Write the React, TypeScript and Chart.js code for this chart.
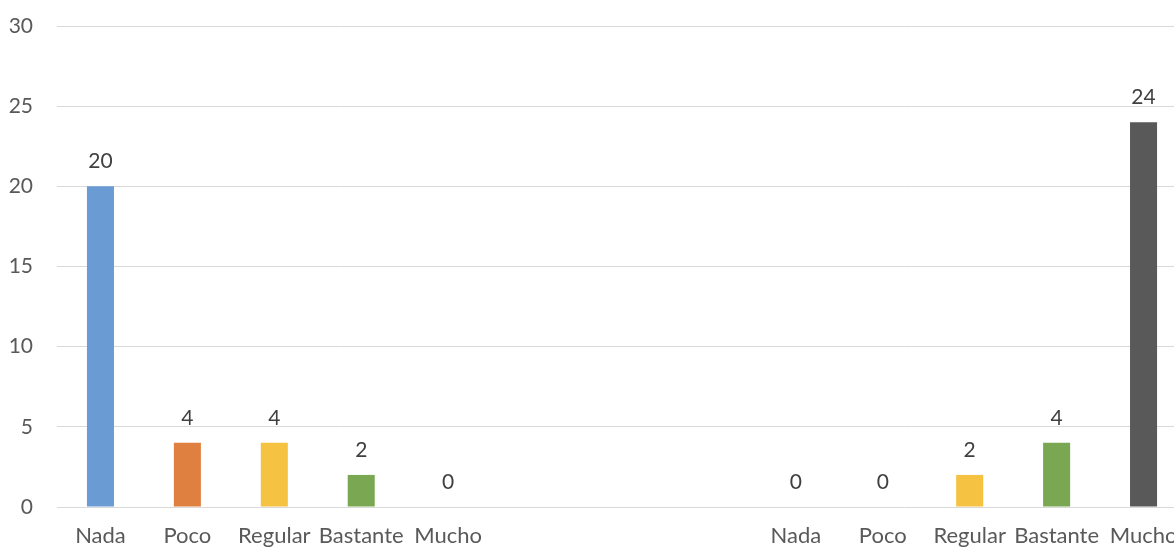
import React, { useEffect, useRef } from "react";
import { Chart, registerables } from "chart.js";

Chart.register(...registerables);

const categories = ["Nada", "Poco", "Regular", "Bastante", "Mucho"];
const groupA = [20, 4, 4, 2, 0];
const groupB = [0, 0, 2, 4, 24];
const gapSlots = 3;
const barColors = ["#6A9BD3", "#E08040", "#F5C242", "#7AA852", "#595959"];
const yTicks = { min: 0, max: 30, step: 5 };

const labels = [...categories, ...Array(gapSlots).fill(""), ...categories];
const values: (number | null)[] = [...groupA, ...Array(gapSlots).fill(null), ...groupB];
const colors = [...barColors, ...Array(gapSlots).fill("#ffffff"), ...barColors];

const FONT = "Lato, 'Open Sans', sans-serif";

const valueLabels = {
  id: "valueLabels",
  afterDatasetsDraw(chart: any) {
    const ctx = chart.ctx;
    const meta = chart.getDatasetMeta(0);
    ctx.save();
    ctx.fillStyle = "#404040";
    ctx.font = `21px ${FONT}`;
    ctx.textAlign = "center";
    ctx.textBaseline = "middle";
    meta.data.forEach((bar: any, i: number) => {
      const v = chart.data.datasets[0].data[i];
      if (v === null || v === undefined) return;
      ctx.fillText(String(v), bar.x, bar.y - 25);
    });
    ctx.restore();
  },
};

export default function App() {
  const ref = useRef<HTMLCanvasElement | null>(null);
  useEffect(() => {
    if (!ref.current) return;
    const chart = new Chart(ref.current, {
      type: "bar",
      data: {
        labels,
        datasets: [
          {
            data: values,
            backgroundColor: colors,
            categoryPercentage: 1,
            barPercentage: 0.311,
          },
        ],
      },
      options: {
        animation: false,
        responsive: false,
        maintainAspectRatio: false,
        layout: { padding: { top: 26, left: 0, right: 3, bottom: 0 } },
        plugins: { legend: { display: false }, tooltip: { enabled: false } },
        scales: {
          x: {
            grid: { display: false },
            border: { display: false },
            ticks: {
              color: "#595959",
              font: { family: FONT, size: 22 },
              padding: 8,
              maxRotation: 0,
              autoSkip: false,
            },
            afterFit: (s: any) => {
              s.height = 50;
            },
          },
          y: {
            min: yTicks.min,
            max: yTicks.max,
            ticks: {
              stepSize: yTicks.step,
              color: "#595959",
              font: { family: FONT, size: 21 },
              padding: 0,
            },
            grid: {
              color: "#D9D9D9",
              lineWidth: 1,
              drawTicks: true,
              tickLength: 24,
              tickColor: "rgba(0,0,0,0)",
            },
            border: { display: false },
            afterFit: (s: any) => {
              s.width = 57;
            },
          },
        },
      },
      plugins: [valueLabels],
    });
    return () => chart.destroy();
  }, []);
  return (
    <div
      style={{
        position: "fixed",
        left: 0,
        top: 0,
        width: 1174,
        height: 547,
        overflow: "hidden",
        background: "#fff",
      }}
    >
      <canvas ref={ref} width={1190} height={557} style={{ display: "block" }} />
    </div>
  );
}
